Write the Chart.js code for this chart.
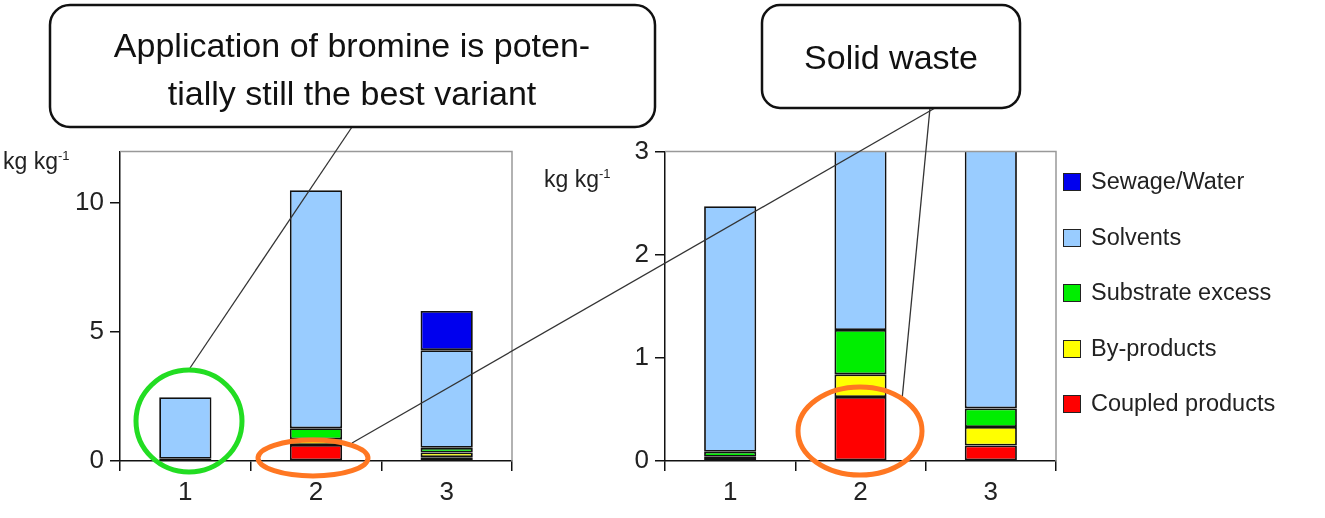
<!DOCTYPE html>
<html><head><meta charset="utf-8">
<script src="https://cdn.jsdelivr.net/npm/chart.js@4/dist/chart.umd.min.js"></script>
<style>
body{margin:0;width:1325px;height:518px;background:#fff;position:relative;overflow:hidden;font-family:"Liberation Sans",Arial,sans-serif}
#c1{position:absolute;left:0;top:130px}
#c2{position:absolute;left:530px;top:130px}
#ov{position:absolute;left:0;top:0}
.unit{position:absolute;font-size:23px;color:#222}
.unit sup{font-size:13px}
#legend{position:absolute;left:1063px;top:168px;font-size:23.5px;color:#222}
#legend div{height:55.5px;display:flex;align-items:flex-start}
#legend span{display:inline-block;width:16px;height:16px;border:1.5px solid #222;margin:5px 10px 0 0}
</style></head><body>
<canvas id="c1" width="530" height="388"></canvas>
<canvas id="c2" width="535" height="388"></canvas>
<div class="unit" style="left:3px;top:148px">kg kg<sup>-1</sup></div>
<div class="unit" style="left:544px;top:166px">kg kg<sup>-1</sup></div>
<div id="legend"></div>
<svg id="ov" width="1325" height="518">
  <g fill="none" stroke="#333" stroke-width="1.3">
    <line x1="352" y1="127" x2="190" y2="368"/>
    <line x1="352" y1="443" x2="935" y2="108"/>
    <line x1="930" y1="108" x2="902" y2="400"/>
  </g>
  <ellipse cx="189" cy="421" rx="53" ry="51" fill="none" stroke="#22dd22" stroke-width="5"/>
  <ellipse cx="313" cy="458" rx="55" ry="18" fill="none" stroke="#ff7722" stroke-width="5"/>
  <ellipse cx="860" cy="431" rx="62" ry="44" fill="none" stroke="#ff7722" stroke-width="5"/>
  <rect x="50" y="5" width="605" height="122" rx="20" fill="#fff" stroke="#111" stroke-width="2.5"/>
  <text x="352" y="57" text-anchor="middle" font-size="34" fill="#111" font-family="Liberation Sans, Arial">Application of bromine is poten-</text>
  <text x="352" y="105" text-anchor="middle" font-size="34" fill="#111" font-family="Liberation Sans, Arial">tially still the best variant</text>
  <rect x="762" y="5" width="258" height="103" rx="18" fill="#fff" stroke="#111" stroke-width="2.5"/>
  <text x="891" y="69" text-anchor="middle" font-size="34" fill="#111" font-family="Liberation Sans, Arial">Solid waste</text>
</svg>
<script>
const categories = ['1', '2', '3'];
const seriesNames = ['Coupled products', 'By-products', 'Substrate excess', 'Solvents', 'Sewage/Water'];
const coupled   = [0.0, 0.62, 0.15];
const byprod    = [0.04, 0.22, 0.18];
const substrate = [0.05, 0.43, 0.18];
const solvents  = [2.38, 9.23, 3.79];
const sewage    = [0.0, 0.0, 1.52];
const colors = ['#ff0000', '#ffff00', '#00ee00', '#99ccff', '#0000ee'];
const leftTicks = [0, 5, 10];
const rightTicks = [0, 1, 2, 3];

const values = [coupled, byprod, substrate, solvents, sewage];

// legend, top to bottom reversed from stacking order
document.getElementById('legend').innerHTML = seriesNames.map((n, i) =>
  `<div><span style="background:${colors[i]}"></span>${n}</div>`).reverse().join('');

const frame = {
  id: 'frame',
  afterDraw(chart){
    const {ctx, chartArea:a} = chart;
    ctx.save();
    ctx.strokeStyle = '#999'; ctx.lineWidth = 1.5;
    ctx.beginPath(); ctx.moveTo(a.left, a.top); ctx.lineTo(a.right, a.top); ctx.lineTo(a.right, a.bottom); ctx.stroke();
    ctx.restore();
  }
};

function makeChart(id, max, ticks, yWidth, padRight){
  return new Chart(document.getElementById(id), {
    type: 'bar',
    data: {
      labels: categories,
      datasets: values.map((v, i) => ({
        label: seriesNames[i], data: v, backgroundColor: colors[i],
        borderColor: '#111', borderWidth: 1.8, borderSkipped: false,
        barPercentage: 0.4, categoryPercentage: 1
      }))
    },
    options: {
      responsive: false, animation: false,
      layout: { padding: { top: 8, right: padRight } },
      plugins: { legend: { display: false }, tooltip: { enabled: false } },
      scales: {
        x: {
          stacked: true,
          grid: { display: true, drawOnChartArea: false, offset: true, tickLength: 10, color: '#111', lineWidth: 1.5 },
          border: { color: '#111', width: 1.5 },
          ticks: { color: '#222', font: { size: 26, family: 'Liberation Sans' }, padding: 6 },
          afterFit(s){ s.height = 57; }
        },
        y: {
          stacked: true, min: 0, max: max,
          afterBuildTicks(s){ s.ticks = ticks.map(v => ({ value: v })); },
          grid: { display: true, drawOnChartArea: false, tickLength: 10, color: '#111', lineWidth: 1.5 },
          border: { color: '#111', width: 1.5 },
          ticks: { color: '#222', font: { size: 26, family: 'Liberation Sans' }, padding: 6 },
          afterFit(s){ s.width = yWidth; }
        }
      }
    },
    plugins: [frame]
  });
}

makeChart('c1', 12, leftTicks, 120, 18);
makeChart('c2', 3, rightTicks, 135, 9);
</script>
</body></html>
